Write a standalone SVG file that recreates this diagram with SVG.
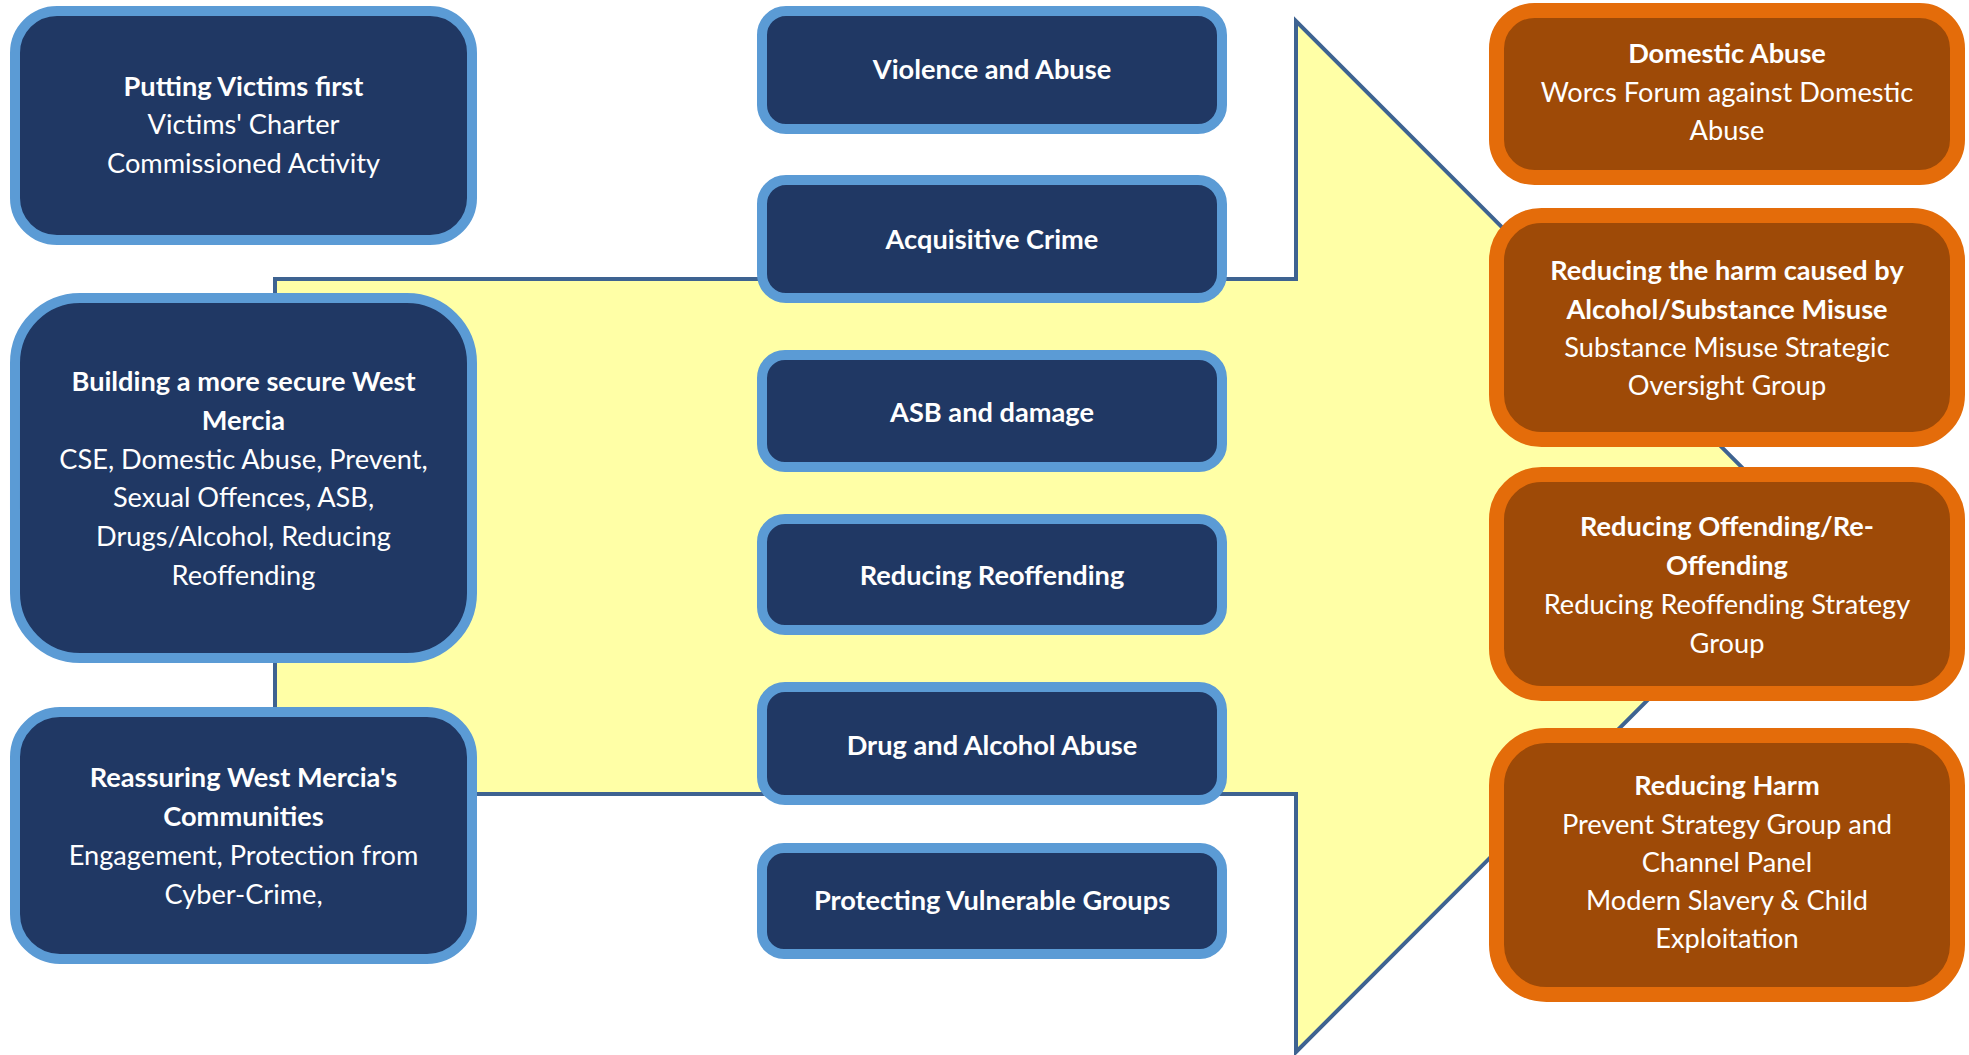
<svg xmlns="http://www.w3.org/2000/svg" width="1969" height="1055" viewBox="0 0 1969 1055">
<style>
.nb{fill:#203864;stroke:#5B9BD5;stroke-width:10}
.ob{fill:#9E4A07;stroke:#E46C0A;stroke-width:15}
text{font-family:Lato,"Noto Sans",sans-serif;font-size:27.2px;fill:#FFFFFF;text-anchor:middle}
.b{font-weight:bold}
</style>
<rect width="1969" height="1055" fill="#FFFFFF"/>
<g id="background-arrow">
<path d="M275,279 H1296 V21 L1811,536.5 L1296,1052 V794 H275 Z" fill="#FFFFA6" stroke="#3E6391" stroke-width="4" stroke-linejoin="miter"/>
</g>
<g id="connectors"></g>
<g id="node-victims">
<rect class="nb" x="15" y="11" width="457" height="229" rx="42"/>
<text x="243.5" y="96" class="b">Putting Victims first</text>
<text x="243.5" y="134">Victims' Charter</text>
<text x="243.5" y="173">Commissioned Activity</text>
</g>
<g id="node-secure">
<rect class="nb" x="15" y="298" width="457" height="360" rx="65"/>
<text x="243.5" y="391" class="b">Building a more secure West</text>
<text x="243.5" y="430" class="b">Mercia</text>
<text x="243.5" y="469">CSE, Domestic Abuse, Prevent,</text>
<text x="243.5" y="507">Sexual Offences, ASB,</text>
<text x="243.5" y="546">Drugs/Alcohol, Reducing</text>
<text x="243.5" y="585">Reoffending</text>
</g>
<g id="node-reassuring">
<rect class="nb" x="15" y="712" width="457" height="247" rx="45"/>
<text x="243.5" y="787" class="b">Reassuring West Mercia's</text>
<text x="243.5" y="826" class="b">Communities</text>
<text x="243.5" y="865">Engagement, Protection from</text>
<text x="243.5" y="904">Cyber-Crime,</text>
</g>
<g id="node-violence">
<rect class="nb" x="762" y="11" width="460" height="118" rx="24"/>
<text x="992" y="79" class="b">Violence and Abuse</text>
</g>
<g id="node-acquisitive">
<rect class="nb" x="762" y="180" width="460" height="118" rx="24"/>
<text x="992" y="248.5" class="b">Acquisitive Crime</text>
</g>
<g id="node-asb">
<rect class="nb" x="762" y="355" width="460" height="112" rx="23"/>
<text x="992" y="422" class="b">ASB and damage</text>
</g>
<g id="node-reoffending">
<rect class="nb" x="762" y="519" width="460" height="111" rx="23"/>
<text x="992" y="585" class="b">Reducing Reoffending</text>
</g>
<g id="node-drug">
<rect class="nb" x="762" y="687" width="460" height="113" rx="23"/>
<text x="992" y="754.5" class="b">Drug and Alcohol Abuse</text>
</g>
<g id="node-vulnerable">
<rect class="nb" x="762" y="848" width="460" height="106" rx="22"/>
<text x="992" y="910" class="b">Protecting Vulnerable Groups</text>
</g>
<g id="node-domestic">
<rect class="ob" x="1496.5" y="10.5" width="461" height="167" rx="38"/>
<text x="1727" y="63" class="b">Domestic Abuse</text>
<text x="1727" y="101.5">Worcs Forum against Domestic</text>
<text x="1727" y="140">Abuse</text>
</g>
<g id="node-alcohol">
<rect class="ob" x="1496.5" y="215.5" width="461" height="224" rx="45"/>
<text x="1727" y="280" class="b">Reducing the harm caused by</text>
<text x="1727" y="319" class="b">Alcohol/Substance Misuse</text>
<text x="1727" y="357">Substance Misuse Strategic</text>
<text x="1727" y="395">Oversight Group</text>
</g>
<g id="node-offending">
<rect class="ob" x="1496.5" y="474.5" width="461" height="219" rx="45"/>
<text x="1727" y="536" class="b">Reducing Offending/Re-</text>
<text x="1727" y="575" class="b">Offending</text>
<text x="1727" y="614">Reducing Reoffending Strategy</text>
<text x="1727" y="653">Group</text>
</g>
<g id="node-harm">
<rect class="ob" x="1496.5" y="735.5" width="461" height="259" rx="50"/>
<text x="1727" y="795" class="b">Reducing Harm</text>
<text x="1727" y="834">Prevent Strategy Group and</text>
<text x="1727" y="872">Channel Panel</text>
<text x="1727" y="910">Modern Slavery &amp; Child</text>
<text x="1727" y="948">Exploitation</text>
</g>
</svg>
